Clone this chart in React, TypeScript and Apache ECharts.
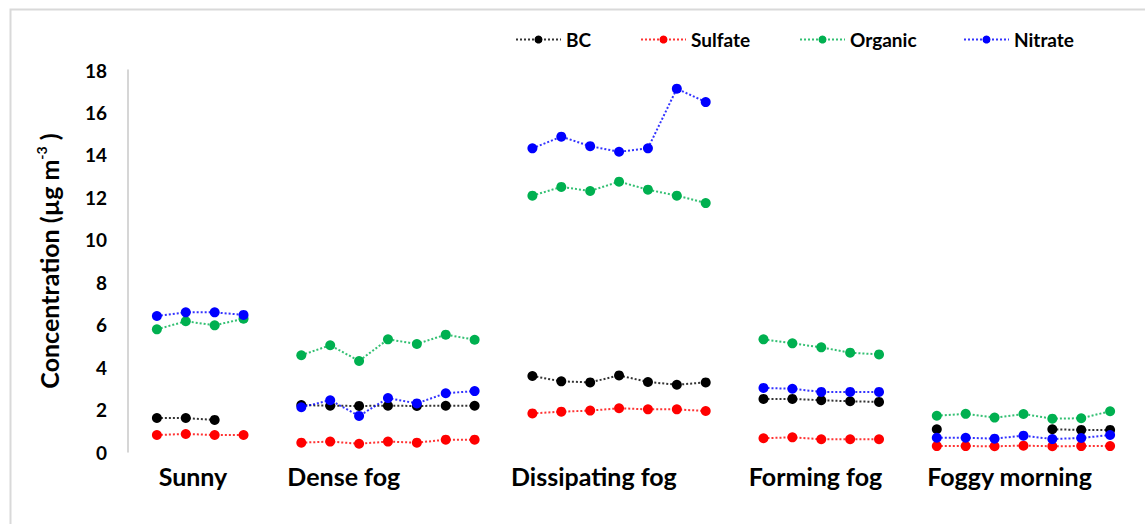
import React, { useEffect, useRef } from 'react';
import * as echarts from 'echarts';

// Groups (weather conditions) shown along the x axis
const groups = ['Sunny', 'Dense fog', 'Dissipating fog', 'Forming fog', 'Foggy morning'];
// Series names
const seriesNames = ['BC', 'Sulfate', 'Organic', 'Nitrate'];
// Values per group for each series (null = no measurement)
const bcValues = [
  [1.6, 1.6, 1.51, null],
  [2.21, 2.18, 2.17, 2.18, 2.17, 2.18, 2.18],
  [3.58, 3.33, 3.28, 3.61, 3.3, 3.17, 3.28],
  [2.5, 2.5, 2.44, 2.39, 2.36],
  [1.07, null, null, null, 1.07, 1.04, 1.04],
];
const sulfateValues = [
  [0.8, 0.85, 0.8, 0.8],
  [0.44, 0.49, 0.39, 0.49, 0.44, 0.58, 0.58],
  [1.82, 1.9, 1.95, 2.06, 2.01, 2.01, 1.93],
  [0.65, 0.69, 0.6, 0.6, 0.6],
  [0.28, 0.28, 0.27, 0.3, 0.27, 0.28, 0.28],
];
const organicValues = [
  [5.78, 6.16, 5.97, 6.28],
  [4.56, 5.03, 4.29, 5.31, 5.09, 5.53, 5.29],
  [12.08, 12.49, 12.3, 12.74, 12.36, 12.08, 11.73],
  [5.31, 5.12, 4.93, 4.68, 4.6],
  [1.71, 1.8, 1.62, 1.79, 1.57, 1.59, 1.92],
];
const nitrateValues = [
  [6.41, 6.58, 6.58, 6.46],
  [2.11, 2.44, 1.7, 2.54, 2.29, 2.77, 2.87],
  [14.31, 14.86, 14.41, 14.15, 14.31, 17.12, 16.49],
  [3.02, 2.98, 2.83, 2.83, 2.83],
  [0.67, 0.67, 0.63, 0.77, 0.61, 0.66, 0.8],
];
// Y axis ticks
const yMin = 0;
const yMax = 18;
const yInterval = 2;

// Layout: x position (in slot units) where each group label is centred
const groupLabelSlots = [1.25, 6.47, 15.13, 22.8, 29.52];

const colors = ['#000000', '#FF0000', '#00B050', '#0000FF'];
const allValues = [bcValues, sulfateValues, organicValues, nitrateValues];
const FONT = "Lato, 'Open Sans', sans-serif";

function buildSeriesData(grouped: (number | null)[][]) {
  const out: any[] = [];
  let slot = 0;
  grouped.forEach((vals, gi) => {
    vals.forEach((v) => {
      out.push([slot, v == null ? '-' : v]);
      slot++;
    });
    if (gi < grouped.length - 1) {
      out.push([slot, '-']);
      slot++;
    }
  });
  return out;
}

const legendLefts = [510, 635, 794, 958];

export default function App() {
  const ref = useRef<HTMLDivElement>(null);
  useEffect(() => {
    if (!ref.current) return;
    const chart = echarts.init(ref.current, undefined, { renderer: 'svg' });
    const option: any = {
      animation: false,
      backgroundColor: '#ffffff',
      textStyle: { fontFamily: FONT },
      grid: { left: 128, right: 6, top: 70, bottom: 72 },
      legend: seriesNames.map((n, i) => ({
        data: [n],
        left: legendLefts[i],
        top: 25,
        itemWidth: 45,
        itemHeight: 10,
        itemGap: 0,
        textStyle: { fontFamily: FONT, fontWeight: 'bold', fontSize: 19, color: '#000' },
      })),
      xAxis: {
        type: 'value',
        min: -1,
        max: 34,
        axisLine: { show: false, onZero: false },
        axisTick: { show: false },
        splitLine: { show: false },
        axisLabel: {
          customValues: groupLabelSlots,
          margin: 11,
          fontFamily: FONT,
          fontWeight: 'bold',
          fontSize: 25,
          color: '#000',
          formatter: (v: number) => {
            const idx = groupLabelSlots.findIndex((s) => Math.abs(s - v) < 0.01);
            return idx >= 0 ? groups[idx] : '';
          },
        },
      },
      yAxis: {
        type: 'value',
        min: yMin,
        max: yMax,
        interval: yInterval,
        name: '{a|Concentration (µg m}{b|-3}{a| )}',
        nameLocation: 'middle',
        nameGap: 64,
        nameTextStyle: {
          rich: {
            a: { fontFamily: FONT, fontWeight: 'bold', fontSize: 25, color: '#000', lineHeight: 30 },
            b: { fontFamily: FONT, fontWeight: 'bold', fontSize: 14, color: '#000', lineHeight: 14, verticalAlign: 'top' },
          },
        },
        axisLine: { show: true, onZero: false, lineStyle: { color: '#C8C8C8', width: 1.5 } },
        axisTick: { show: false },
        splitLine: { show: false },
        axisLabel: { margin: 21, fontFamily: FONT, fontWeight: 'bold', fontSize: 19, color: '#000' },
      },
      graphic: [
        {
          type: 'rect',
          left: 8,
          top: 7,
          shape: { width: 1160, height: 540 },
          style: { fill: 'none', stroke: '#D9D9D9', lineWidth: 2 },
          silent: true,
        },
      ],
      series: seriesNames.map((n, i) => ({
        name: n,
        type: 'line',
        data: buildSeriesData(allValues[i]),
        symbol: 'circle',
        symbolSize: 10,
        showSymbol: true,
        connectNulls: false,
        itemStyle: { color: colors[i] },
        lineStyle: { color: colors[i], width: 2, type: [2, 2], opacity: 0.8 },
        z: 2 + i,
      })),
    };
    chart.setOption(option);
    return () => chart.dispose();
  }, []);
  return <div ref={ref} style={{ position: 'absolute', left: 0, top: 0, width: 1145, height: 524 }} />;
}
